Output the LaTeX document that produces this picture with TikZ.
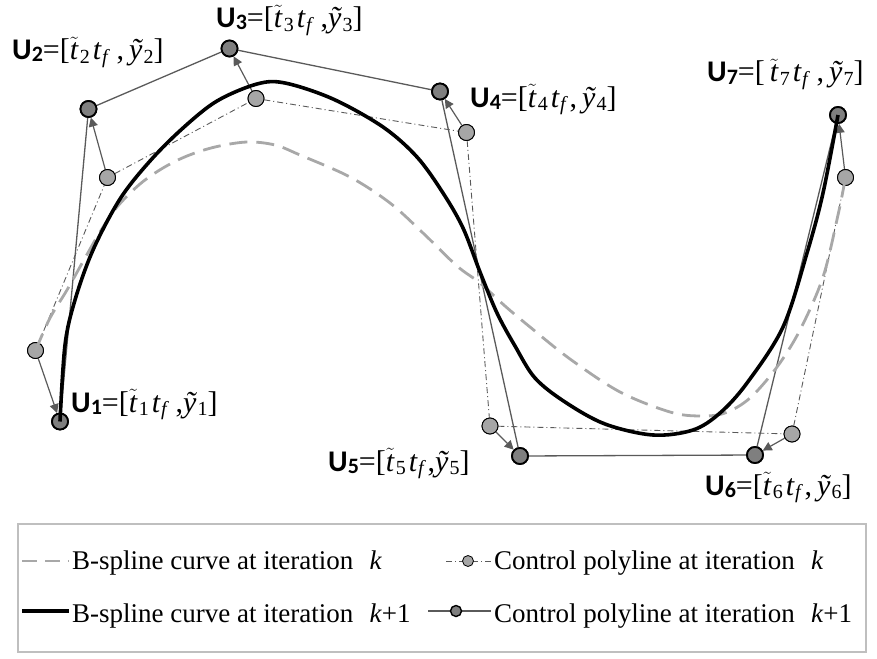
\documentclass[tikz,border=0pt]{standalone}
\usepackage{fontspec}
\setmainfont{Liberation Serif}
\newfontfamily\calib{Carlito}
\usetikzlibrary{arrows.meta}
\definecolor{polygray}{HTML}{5A5A5A}
\definecolor{darkfill}{HTML}{7F7F7F}
\definecolor{lightfill}{HTML}{A6A6A6}
\definecolor{oldcurvecol}{HTML}{A8A8A8}
\definecolor{boxgray}{HTML}{BFBFBF}
\newcommand{\ulab}[1]{{\calib\bfseries U\raisebox{-2pt}{\fontsize{22}{22}\selectfont #1}}}
\newcommand{\lsub}[1]{\raisebox{-0.12em}{\fontsize{20}{20}\selectfont #1}}
\newcommand{\tv}[1]{$\tilde{\mbox{\textit{t}}}$\kern1pt\lsub{#1}\kern3pt}
\newcommand{\yv}[1]{\textit{\~y}\kern0.5pt\lsub{#1}}
\newcommand{\tfv}{\textit{t}\kern0.5pt\lsub{\textit{f}}\kern1.5pt}
\newcommand{\gap}{\kern5pt}
\tikzset{
  darkpt/.style={circle, draw=black, line width=1.8pt, fill=darkfill, minimum size=16pt, inner sep=0pt},
  lightpt/.style={circle, draw=black, line width=0.9pt, fill=lightfill, minimum size=16pt, inner sep=0pt},
  darkptsm/.style={circle, draw=black, line width=1.4pt, fill=darkfill, minimum size=11pt, inner sep=0pt},
  lightptsm/.style={circle, draw=black, line width=0.8pt, fill=lightfill, minimum size=11pt, inner sep=0pt},
  newpoly/.style={draw=polygray, line width=1.3pt},
  oldpoly/.style={draw=polygray, line width=0.9pt, dash pattern=on 6pt off 3pt on 1pt off 3pt},
  movearrow/.style={draw=polygray, line width=1.2pt, -{Triangle[length=9pt,width=9pt]}},
  newcurve/.style={draw=black, line width=3.6pt},
  oldcurve/.style={draw=oldcurvecol, line width=2.8pt, dash pattern=on 18pt off 9pt},
  ptlabel/.style={anchor=base west, inner sep=0pt, font=\fontsize{30}{32}\selectfont},
  legtext/.style={anchor=base west, inner sep=0pt, font=\fontsize{27}{30}\selectfont},
  legbox/.style={draw=boxgray, line width=2pt}
}
\begin{document}
\begin{tikzpicture}[x=1pt,y=-1pt]
\useasboundingbox (0,0) rectangle (877,658);
% control points, iteration k+1
\node[darkpt] (U1) at (60,421.5) {};
\node[darkpt] (U2) at (88.5,109) {};
\node[darkpt] (U3) at (229.5,48.5) {};
\node[darkpt] (U4) at (440,91.5) {};
\node[darkpt] (U5) at (520,456) {};
\node[darkpt] (U6) at (755,455) {};
\node[darkpt] (U7) at (838,115) {};
% control points, iteration k
\node[lightpt] (P1) at (35.5,350.5) {};
\node[lightpt] (P2) at (107.5,177.5) {};
\node[lightpt] (P3) at (256,98.5) {};
\node[lightpt] (P4) at (466.5,132.5) {};
\node[lightpt] (P5) at (490,426) {};
\node[lightpt] (P6) at (792,434) {};
\node[lightpt] (P7) at (845.5,177.5) {};
% polylines
\draw[oldpoly] (P1) -- (P2) -- (P3) -- (P4) -- (P5) -- (P6) -- (P7);
\draw[newpoly] (U1) -- (U2) -- (U3) -- (U4) -- (U5) -- (U6) -- (U7);
% moves
\foreach \i in {1,...,7} {\draw[movearrow] (P\i) -- (U\i);}
% redraw circles on top of lines
\foreach \i/\x/\y in {1/60/421.5,2/88.5/109,3/229.5/48.5,4/440/91.5,5/520/456,6/755/455,7/838/115}
  {\node[darkpt] at (\x,\y) {};}
\foreach \i/\x/\y in {1/35.5/350.5,2/107.5/177.5,3/256/98.5,4/466.5/132.5,5/490/426,6/792/434,7/845.5/177.5}
  {\node[lightpt] at (\x,\y) {};}
% B-spline curve at iteration k
\draw[oldcurve] plot[smooth, tension=0.55] coordinates {
 (35.5,350.5) (50,318) (67,290) (85,258) (100,232) (117,207) (140,184) (163,168)
 (187,156) (215,147) (247,142) (275,145) (300,155) (350,177) (390,203) (423,233)
 (457,266) (480,283) (505,306) (530,327) (570,359) (620,392) (670,412) (700,416)
 (725,413) (750,398) (777,367) (800,330) (823,277) (838,215) (845.5,177.5)};
% B-spline curve at iteration k+1
\draw[newcurve] plot[smooth, tension=0.55] coordinates {
 (60,421.5) (65,345) (75,300) (93,250) (120,199) (150,161) (183,128) (217,101)
 (257,84) (285,83) (333,99) (383,127) (417,157) (443,193) (463,228) (480,272)
 (497,313) (515,346) (535,378) (565,402) (605,424) (653,435) (693,430) (720,413)
 (747,383) (783,327) (807,253) (823,193) (838,115)};
% labels
\node[ptlabel] (L1) at (71,412) {\ulab{1}=[\tv{1}\tfv\gap,\yv{1}]};
\node[ptlabel] (L2) at (12,60) {\ulab{2}=[\tv{2}\tfv\gap,\gap\yv{2}]};
\node[ptlabel] (L3) at (216,28) {\ulab{3}=[\tv{3}\tfv\gap,\yv{3}]};
\node[ptlabel] (L4) at (470,107) {\ulab{4}=[\tv{4}\tfv,\gap\yv{4}]};
\node[ptlabel] (L5) at (328,471) {\ulab{5}=[\tv{5}\tfv,\yv{5}]};
\node[ptlabel] (L6) at (705,495) {\ulab{6}=[\tv{6}\tfv,\gap\yv{6}]};
\node[ptlabel] (L7) at (707,82) {\ulab{7}=[\gap\tv{7}\tfv\gap,\gap\yv{7}]};
% legend
\draw[legbox] (18,524) rectangle (866,652);
\coordinate (a1) at (22,561); \coordinate (a2) at (69,561);
\draw[oldcurve, dash pattern=on 15pt off 8pt] (a1) -- (a2);
\node[legtext] (t1) at (72,569) {B-spline curve at iteration\hspace{0.6em}\textit{k}};
\coordinate (b1) at (22,611); \coordinate (b2) at (69,611);
\draw[newcurve] (b1) -- (b2);
\node[legtext] (t2) at (72,622) {B-spline curve at iteration\hspace{0.6em}\textit{k}+1};
\coordinate (c1) at (446,561); \coordinate (c2) at (491,561);
\draw[oldpoly] (c1) -- (c2);
\node[lightptsm] (cd) at (468,561) {};
\node[legtext] (t3) at (494,569) {Control polyline at iteration\hspace{0.6em}\textit{k}};
\coordinate (d1) at (428,611); \coordinate (d2) at (491,611);
\draw[newpoly] (d1) -- (d2);
\node[darkptsm] (dd) at (456,611) {};
\node[legtext] (t4) at (494,622) {Control polyline at iteration\hspace{0.6em}\textit{k}+1};
\end{tikzpicture}
\end{document}
